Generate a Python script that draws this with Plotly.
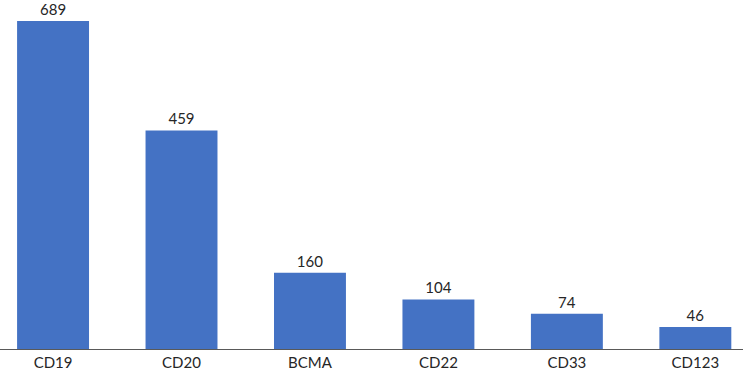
import plotly.graph_objects as go

categories = ["CD19", "CD20", "BCMA", "CD22", "CD33", "CD123"]
values = [689, 459, 160, 104, 74, 46]

fig = go.Figure(go.Bar(
    x=categories, y=values,
    marker=dict(color="#4472C4", line=dict(width=0)),
    text=[str(v) for v in values],
    textposition="outside",
    textfont=dict(family="Lato, Open Sans, sans-serif", size=15, color="#262626"),
    cliponaxis=False,
    hoverinfo="skip",
))

fig.update_layout(
    width=743, height=381,
    margin=dict(l=0, r=0, t=0, b=32, pad=0, autoexpand=False),
    paper_bgcolor="white", plot_bgcolor="white",
    bargap=0.44,
    showlegend=False,
    xaxis=dict(
        range=[-0.413, 5.371], automargin=False,
        showline=True, linecolor="#595959", linewidth=1,
        showgrid=False, ticks="", ticklen=0,
        tickfont=dict(family="Lato, Open Sans, sans-serif", size=15, color="#262626"),
    ),
    yaxis=dict(range=[0, 733], visible=False, showgrid=False, zeroline=False, automargin=False),
)

fig.write_html(
    "out.html",
    config={"displayModeBar": False},
    post_script="document.body.style.margin='0';document.body.style.padding='0';document.body.style.overflow='hidden';",
)
